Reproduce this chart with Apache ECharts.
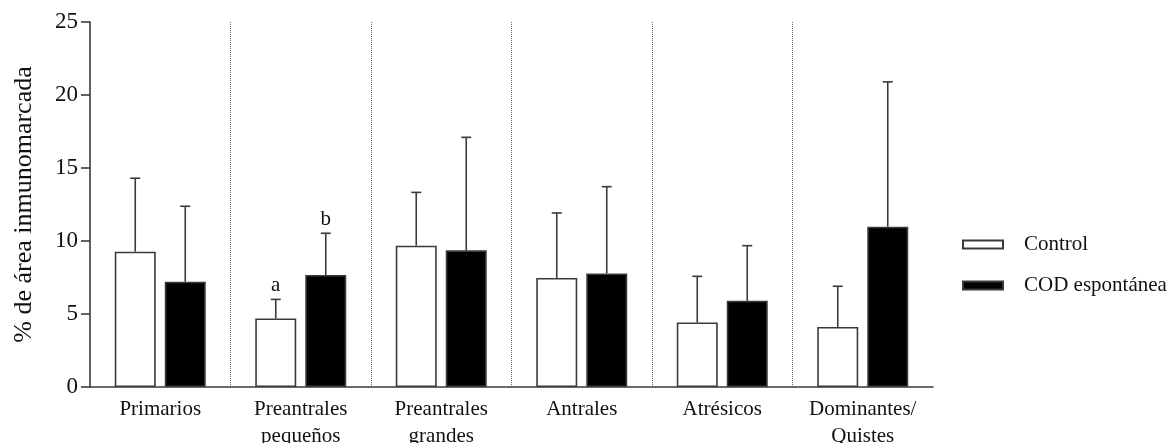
<!DOCTYPE html>
<html>
<head>
<meta charset="utf-8">
<script src="https://cdn.jsdelivr.net/npm/echarts@6/dist/echarts.min.js"></script>
<style>
html,body{margin:0;padding:0;background:#fff;}
#chart{width:1167px;height:443px;}
</style>
</head>
<body>
<div id="chart"></div>
<script>
const categories = ['Primarios', 'Preantrales\npequeños', 'Preantrales\ngrandes', 'Antrales', 'Atrésicos', 'Dominantes/\nQuistes'];
const seriesNames = ['Control', 'COD espontánea'];
const controlMean = [9.27, 4.70, 9.68, 7.47, 4.42, 4.11];
const controlSD   = [5.03, 1.30, 3.65, 4.45, 3.16, 2.79];
const codMean     = [7.21, 7.67, 9.36, 7.78, 5.91, 10.98];
const codSD       = [5.17, 2.86, 7.74, 5.94, 3.77, 9.92];
const controlLetters = ['', 'a', '', '', '', ''];
const codLetters     = ['', 'b', '', '', '', ''];
const yTicks = [0, 5, 10, 15, 20, 25];

const FONT = "Liberation Serif, Times New Roman, Times, DejaVu Serif, serif";
const AXIS_COLOR = '#3a3a3a';
const BAR_W = 41;
const BAR_GAP = 9;

function errData(means, sds, letters) {
  return means.map((m, i) => [i, m, sds[i], letters[i]]);
}

function makeErrRender(offset) {
  return function (params, api) {
    const i = api.value(0);
    const m = api.value(1);
    const sd = api.value(2);
    const letter = api.value(3);
    const p0 = api.coord([i, m]);
    const p1 = api.coord([i, m + sd]);
    const x = p0[0] + offset;
    const children = [
      { type: 'line', shape: { x1: x, y1: p0[1], x2: x, y2: p1[1] },
        style: { stroke: AXIS_COLOR, lineWidth: 1.6 } },
      { type: 'line', shape: { x1: x - 5, y1: p1[1], x2: x + 5, y2: p1[1] },
        style: { stroke: AXIS_COLOR, lineWidth: 1.6 } }
    ];
    if (letter) {
      children.push({ type: 'text', x: x, y: p1[1] - 3,
        style: { text: letter, fill: '#111', fontFamily: FONT, fontSize: 21, align: 'center', verticalAlign: 'bottom' } });
    }
    return { type: 'group', children: children };
  };
}

const chart = echarts.init(document.getElementById('chart'), null, { renderer: 'canvas' });
const off = (BAR_W + BAR_GAP) / 2;

chart.setOption({
  animation: false,
  backgroundColor: '#fff',
  textStyle: { fontFamily: FONT },
  grid: { left: 90, right: 234, top: 22, bottom: 56, containLabel: false, outerBoundsMode: 'none' },
  legend: {
    data: seriesNames,
    orient: 'vertical',
    left: 957,
    top: 229,
    itemWidth: 40,
    itemHeight: 8,
    itemGap: 20,
    icon: 'rect',
    textStyle: { fontFamily: FONT, fontSize: 21, color: '#111', padding: [0, 0, 0, 16] }
  },
  xAxis: {
    type: 'category',
    data: categories,
    axisLine: { show: true, lineStyle: { color: AXIS_COLOR, width: 1.6 } },
    axisTick: { show: false },
    axisLabel: { fontFamily: FONT, fontSize: 21, color: '#111', margin: 9, lineHeight: 27, interval: 0 },
    splitLine: { show: true, showMinLine: false, showMaxLine: false,
      lineStyle: { type: 'dotted', color: '#666', width: 1 } }
  },
  yAxis: {
    type: 'value',
    min: yTicks[0],
    max: yTicks[yTicks.length - 1],
    interval: 5,
    name: '% de área inmunomarcada',
    nameLocation: 'middle',
    nameGap: 53,
    nameRotate: 90,
    nameTextStyle: { fontFamily: FONT, fontSize: 26, color: '#111' },
    axisLine: { show: true, lineStyle: { color: AXIS_COLOR, width: 1.6 } },
    axisTick: { show: true, inside: false, length: 9, lineStyle: { color: AXIS_COLOR, width: 1.6 } },
    axisLabel: { fontFamily: FONT, fontSize: 23, color: '#111', margin: 12 },
    splitLine: { show: false }
  },
  series: [
    {
      name: seriesNames[0], type: 'bar', data: controlMean,
      barWidth: BAR_W, barGap: (BAR_GAP / BAR_W * 100) + '%',
      itemStyle: { color: '#ffffff', borderColor: AXIS_COLOR, borderWidth: 1.6 }
    },
    {
      name: seriesNames[1], type: 'bar', data: codMean,
      barWidth: BAR_W,
      itemStyle: { color: '#000000', borderColor: AXIS_COLOR, borderWidth: 1.6 }
    },
    {
      name: 'err0', type: 'custom', data: errData(controlMean, controlSD, controlLetters),
      renderItem: makeErrRender(-off), z: 5,
      encode: { x: 0, y: 1 }
    },
    {
      name: 'err1', type: 'custom', data: errData(codMean, codSD, codLetters),
      renderItem: makeErrRender(off), z: 5,
      encode: { x: 0, y: 1 }
    }
  ]
});
</script>
</body>
</html>
